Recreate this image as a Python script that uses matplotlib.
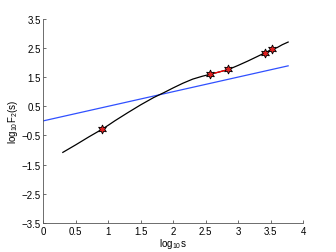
import matplotlib
matplotlib.use("Agg")
import matplotlib.pyplot as plt
import numpy as np

plt.rcParams['font.family'] = ['Liberation Sans', 'DejaVu Sans']
plt.rcParams['mathtext.default'] = 'regular'

# black fluctuation curve
curve_x = [0.30, 0.50, 0.70, 0.91, 1.00, 1.10, 1.20, 1.30, 1.50, 1.70, 1.85, 2.00,
           2.15, 2.30, 2.45, 2.56, 2.70, 2.85, 3.00, 3.15, 3.30, 3.42, 3.52, 3.60,
           3.68, 3.77]
curve_y = [-1.08, -0.82, -0.55, -0.28, -0.15, 0.00, 0.14, 0.28, 0.55, 0.80, 0.96, 1.13,
           1.29, 1.43, 1.53, 1.59, 1.67, 1.76, 1.90, 2.05, 2.21, 2.34, 2.45, 2.51,
           2.61, 2.70]
# star markers
star_x = [0.91, 2.56, 2.85, 3.42, 3.52]
star_y = [-0.28, 1.59, 1.76, 2.34, 2.45]
# red segment
red_x = [2.56, 2.85]
red_y = [1.59, 1.76]
# blue reference line
blue_x = [0.0, 3.77]
blue_y = [0.0, 1.885]

xticks = [0, 0.5, 1, 1.5, 2, 2.5, 3, 3.5, 4]
yticks = [-3.5, -2.5, -1.5, -0.5, 0.5, 1.5, 2.5, 3.5]

fig = plt.figure(figsize=(3.36, 2.53), dpi=100)
ax = fig.add_axes([0.129, 0.1146, 0.773, 0.8075])

ax.plot(blue_x, blue_y, color='#3050ff', lw=0.9)
ax.plot(curve_x, curve_y, color='black', lw=0.9)
ax.plot(red_x, red_y, color='red', lw=0.9)
ax.plot(star_x, star_y, linestyle='none', marker=(6, 1, 0), markersize=6.5,
        markerfacecolor='#e02020', markeredgecolor='black', markeredgewidth=0.6)

ax.set_xlim(0, 4)
ax.set_ylim(-3.5, 3.5)
ax.set_xticks(xticks)
ax.set_xticklabels(['0', '0.5', '1', '1.5', '2', '2.5', '3', '3.5', '4'])
ax.set_yticks(yticks)
ax.set_yticklabels(['\u22123.5', '\u22122.5', '\u22121.5', '\u22120.5', '0.5', '1.5', '2.5', '3.5'])
for s in ['top', 'right']:
    ax.spines[s].set_visible(False)
for s in ['left', 'bottom']:
    ax.spines[s].set_color('#555555')
    ax.spines[s].set_linewidth(0.6)
ax.tick_params(direction='in', length=2, width=0.6, color='#555555', labelsize=7, pad=2)
ax.set_xlabel('log$_{10}$s', fontsize=7, labelpad=0)
ax.set_ylabel('log$_{10}$F$_2$(s)', fontsize=7, labelpad=1)

fig.savefig('out.png', dpi=100)
